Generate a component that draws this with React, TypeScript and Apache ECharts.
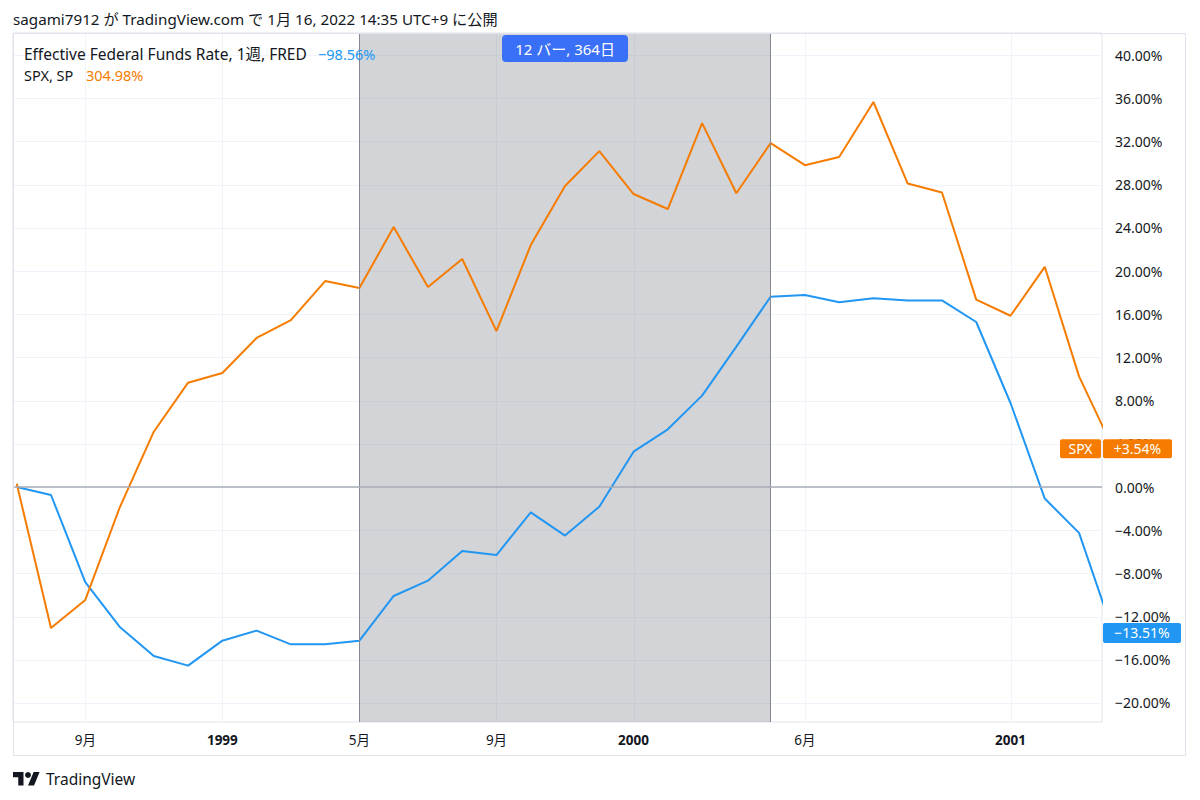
import React, { useEffect, useRef } from "react";
import * as echarts from "echarts";

// ---------- data ----------
const ffrValues = [
  0.0, -0.74, -8.8, -12.93, -15.65, -16.54, -14.23, -13.3, -14.57, -14.57,
  -14.23, -10.09, -8.67, -5.93, -6.3, -2.35, -4.5, -1.82, 3.27, 5.34,
  8.46, 13.0, 17.62, 17.78, 17.1, 17.47, 17.28, 17.28, 15.28, 7.78,
  -1.07, -4.25, -13.51,
];
const spxValues = [
  0.3, -13.06, -10.46, -1.94, 5.12, 9.66, 10.56, 13.8, 15.46, 19.07,
  18.43, 24.07, 18.52, 21.11, 14.44, 22.4, 27.87, 31.1, 27.13, 25.74,
  33.7, 27.2, 31.85, 29.8, 30.56, 35.65, 28.1, 27.27, 17.35, 15.86,
  20.39, 10.24, 3.54,
];
const xTickIndex = [2, 6, 10, 14, 18, 23, 29];
const xTickLabels = ["9月", "1999", "5月", "9月", "2000", "6月", "2001"];
const yTicks = [-20, -16, -12, -8, -4, 0, 4, 8, 12, 16, 20, 24, 28, 32, 36, 40];
const rangeStart = 10;
const rangeEnd = 22;
const rangeLabel = "12 バー, 364日";
const headerText = "sagami7912 が TradingView.com で 1月 16, 2022 14:35 UTC+9 に公開";
const ffrName = "Effective Federal Funds Rate, 1週, FRED";
const ffrChange = "\u221298.56%";
const spxName = "SPX, SP";
const spxChange = "304.98%";
const spxShort = "SPX";

// ---------- styling ----------
const FONT = "'Noto Sans', 'Noto Sans CJK JP', sans-serif";
const BLUE = "#2196f3";
const ORANGE = "#f57c00";
const TEXT = "#131722";
const X_MIN = -0.109;
const X_MAX = 31.67;
const Y_MIN = -21.76;
const Y_MAX = 42.04;

const fmtPct = (v: number) =>
  (v < 0 ? "\u2212" : "") + Math.abs(v).toFixed(2) + "%";
const fmtSigned = (v: number) =>
  (v < 0 ? "\u2212" : "+") + Math.abs(v).toFixed(2) + "%";

echarts.graphic.registerShape(
  "tvlogo",
  echarts.graphic.extendPath("M0 0H14V18H7V7H0Z M20 18L27.5 0H35.5L28 18Z", {})
);

export default function App() {
  const ref = useRef<HTMLDivElement>(null);
  useEffect(() => {
    const chart = echarts.init(ref.current!, null, { renderer: "svg" });
    const option: any = {
      animation: false,
      backgroundColor: "#ffffff",
      grid: {
        left: 13,
        right: 98,
        top: 33,
        bottom: 78,
        show: true,
        borderColor: "#e0e3eb",
        borderWidth: 1,
      },
      xAxis: {
        type: "value",
        min: X_MIN,
        max: X_MAX,
        axisLine: { show: false },
        axisTick: { show: false },
        splitLine: { show: false },
        axisLabel: {
          customValues: xTickIndex,
          formatter: (v: number) => {
            const k = xTickIndex.indexOf(Math.round(v));
            const t = xTickLabels[k] ?? "";
            return /^\d{4}$/.test(t) ? `{b|${t}}` : t;
          },
          color: TEXT,
          fontSize: 13.5,
          fontFamily: FONT,
          margin: 11,
          rich: {
            b: { fontWeight: "bold", fontSize: 13.5, color: TEXT, fontFamily: FONT },
          },
        },
      },
      yAxis: {
        type: "value",
        position: "right",
        min: Y_MIN,
        max: Y_MAX,
        axisLine: { show: false },
        axisTick: { show: false },
        splitLine: { show: false },
        axisLabel: {
          customValues: yTicks,
          formatter: fmtPct,
          color: TEXT,
          fontSize: 14,
          fontFamily: FONT,
          margin: 13,
        },
      },
      series: [
        {
          type: "custom",
          z: 0,
          silent: true,
          data: yTicks.map((v) => [0, v]),
          renderItem: (params: any, api: any) => {
            const cs = params.coordSys;
            const y = Math.round(api.coord([0, api.value(1)])[1]) + 0.5;
            return {
              type: "line",
              shape: { x1: cs.x, y1: y, x2: cs.x + cs.width, y2: y },
              style: { stroke: "#f0f3fa", lineWidth: 1 },
            };
          },
        },
        {
          type: "custom",
          z: 0,
          silent: true,
          data: xTickIndex.map((i) => [i, 0]),
          renderItem: (params: any, api: any) => {
            const cs = params.coordSys;
            const x = Math.round(api.coord([api.value(0), 0])[0]) + 0.5;
            return {
              type: "line",
              shape: { x1: x, y1: cs.y, x2: x, y2: cs.y + cs.height },
              style: { stroke: "#f0f3fa", lineWidth: 1 },
            };
          },
        },
        {
          name: ffrName,
          type: "line",
          z: 3,
          data: ffrValues.map((v, i) => [i, v]),
          showSymbol: false,
          symbol: "none",
          lineStyle: { color: BLUE, width: 2 },
          itemStyle: { color: BLUE },
          markArea: {
            silent: true,
            itemStyle: { color: "rgba(120,123,134,0.33)" },
            data: [[{ xAxis: rangeStart }, { xAxis: rangeEnd }]],
          },
          markLine: {
            silent: true,
            symbol: ["none", "none"],
            label: { show: false },
            lineStyle: { type: "solid" },
            data: [
              { xAxis: rangeStart, lineStyle: { color: "#868993", width: 1, type: "solid" } },
              { xAxis: rangeEnd, lineStyle: { color: "#868993", width: 1, type: "solid" } },
              { yAxis: 0, lineStyle: { color: "#a9acb4", width: 1.5, type: "solid" } },
            ],
          },
        },
        {
          name: spxName,
          type: "line",
          z: 3,
          data: spxValues.map((v, i) => [i, v]),
          showSymbol: false,
          symbol: "none",
          lineStyle: { color: ORANGE, width: 2 },
          itemStyle: { color: ORANGE },
        },
      ],
    };
    chart.setOption(option);

    const spxLast = spxValues[spxValues.length - 1];
    const ffrLast = ffrValues[ffrValues.length - 1];
    const yS = chart.convertToPixel({ yAxisIndex: 0 }, spxLast) as number;
    const yF = chart.convertToPixel({ yAxisIndex: 0 }, ffrLast) as number;
    const xMid = chart.convertToPixel({ xAxisIndex: 0 }, (rangeStart + rangeEnd) / 2) as number;

    const txt = (
      x: number,
      y: number,
      text: string,
      fill: string,
      size: number,
      align = "left",
      weight = "normal"
    ) => ({
      type: "text",
      x,
      y,
      silent: true,
      z: 100,
      style: {
        text,
        fill,
        fontSize: size,
        fontFamily: FONT,
        fontWeight: weight,
        textAlign: align,
        align,
        textVerticalAlign: "middle",
        verticalAlign: "middle",
      },
    });

    chart.setOption({
      graphic: [
        {
          type: "rect",
          silent: true,
          z: 50,
          shape: { x: 13.5, y: 33.5, width: 1172, height: 722 },
          style: { fill: "none", stroke: "#e0e3eb", lineWidth: 1 },
        },
        txt(13, 19, headerText, TEXT, 15.2),
        txt(24, 54, ffrName, TEXT, 15.5),
        txt(318, 54, ffrChange, BLUE, 14.5),
        txt(24, 75, spxName, TEXT, 14.5),
        txt(86, 75, spxChange, ORANGE, 14.5),
        {
          type: "rect",
          silent: true,
          z: 99,
          shape: { x: xMid - 63, y: 35, width: 126, height: 27, r: 4 },
          style: { fill: "#3a6ff7" },
        },
        txt(xMid, 48.5, rangeLabel, "#ffffff", 15, "center"),
        {
          type: "rect",
          silent: true,
          z: 99,
          shape: { x: 1060, y: yS - 9.5, width: 41, height: 19, r: 2 },
          style: { fill: ORANGE },
        },
        txt(1080.5, yS, spxShort, "#ffffff", 14, "center"),
        {
          type: "rect",
          silent: true,
          z: 99,
          shape: { x: 1103, y: yS - 9.5, width: 69, height: 19, r: 2 },
          style: { fill: ORANGE },
        },
        txt(1137.5, yS, fmtSigned(spxLast), "#ffffff", 14, "center"),
        {
          type: "rect",
          silent: true,
          z: 99,
          shape: { x: 1103, y: yF - 10, width: 78, height: 20, r: 2 },
          style: { fill: BLUE },
        },
        txt(1142, yF, fmtPct(ffrLast), "#ffffff", 14, "center"),
        {
          type: "tvlogo",
          silent: true,
          z: 100,
          x: 13,
          y: 772,
          scaleX: 0.75,
          scaleY: 0.75,
          style: { fill: TEXT },
        },
        {
          type: "circle",
          silent: true,
          z: 100,
          shape: { cx: 13 + 20 * 0.75, cy: 772 + 4 * 0.75, r: 4 * 0.75 },
          style: { fill: TEXT },
        },
        txt(46, 779, "TradingView", TEXT, 15.5),
      ],
    });

    return () => chart.dispose();
  }, []);
  return (
    <div
      ref={ref}
      style={{ position: "fixed", left: 0, top: 0, width: 1200, height: 800, background: "#fff" }}
    />
  );
}
